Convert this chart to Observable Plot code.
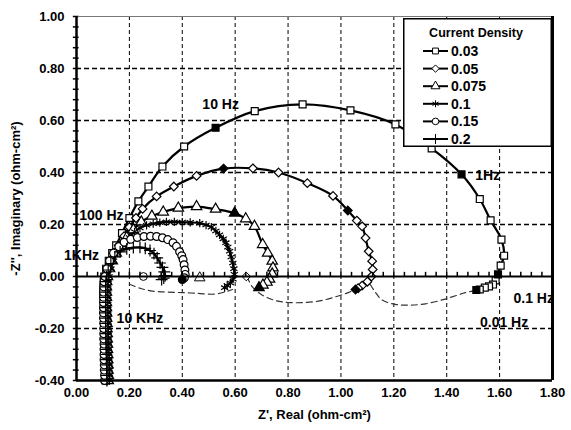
<!DOCTYPE html>
<html><head><meta charset="utf-8">
<script src="https://cdn.jsdelivr.net/npm/d3@7"></script>
<script src="https://cdn.jsdelivr.net/npm/@observablehq/plot@0.6"></script>
<style>
body{margin:0;background:#fff;}
#wrap{position:relative;width:571px;height:430px;font-family:"Liberation Sans",Arial,sans-serif;}
#legend{position:absolute;left:403px;top:18px;}
</style></head><body><div id="wrap"></div>
<script>
// ---------- data ----------
const seriesNames = ["0.03","0.05","0.075","0.1","0.15","0.2"];

// high-frequency (inductive) tail, shared imaginary values
const tailIm = [-0.40,-0.38,-0.36,-0.34,-0.32,-0.30,-0.28,-0.26,-0.24,-0.22,-0.20,-0.18,-0.16,-0.14,-0.12,-0.10,-0.08,-0.06,-0.04,-0.02,0.00];
const tail003 = [0.110,0.110,0.109,0.109,0.108,0.108,0.107,0.107,0.106,0.106,0.105,0.105,0.104,0.104,0.103,0.103,0.102,0.102,0.102,0.103,0.105];
const tail005 = [0.115,0.115,0.114,0.114,0.113,0.113,0.112,0.112,0.111,0.111,0.110,0.110,0.109,0.109,0.108,0.108,0.108,0.108,0.108,0.109,0.112];
const tail0075 = [0.120,0.120,0.119,0.119,0.118,0.118,0.117,0.117,0.116,0.116,0.115,0.115,0.114,0.114,0.113,0.113,0.113,0.113,0.113,0.114,0.117];
const tail01 = [0.125,0.125,0.124,0.124,0.123,0.123,0.122,0.122,0.121,0.121,0.120,0.120,0.119,0.119,0.118,0.118,0.118,0.118,0.118,0.120,0.123];
const tail015 = [0.106,0.106,0.105,0.105,0.104,0.104,0.104,0.104,0.103,0.103,0.103,0.103,0.102,0.102,0.102,0.102,0.102,0.102,0.103,0.104,0.107];
const tail02 = [0.115,0.115,0.114,0.114,0.113,0.113,0.112,0.112,0.111,0.111,0.110,0.110,0.110,0.110,0.110,0.110,0.110,0.110,0.110,0.111,0.114];

// arcs
const arcRe003 = [0.112,0.122,0.135,0.150,0.172,0.200,0.234,0.272,0.325,0.407,0.526,0.674,0.855,1.036,1.206,1.343,1.456,1.525,1.566,1.607,1.617,1.604,1.594,1.585,1.575,1.560,1.544,1.525,1.512];
const arcIm003 = [0.03,0.06,0.09,0.12,0.167,0.225,0.289,0.346,0.423,0.500,0.572,0.636,0.662,0.639,0.585,0.493,0.393,0.298,0.216,0.142,0.080,0.042,0.008,-0.015,-0.031,-0.038,-0.043,-0.050,-0.052];
const filled003 = [0.526,1.456,1.594,1.512];

const arcRe005 = [0.120,0.130,0.145,0.160,0.180,0.200,0.225,0.250,0.303,0.368,0.454,0.556,0.667,0.764,0.873,0.970,1.026,1.060,1.080,1.093,1.105,1.118,1.120,1.115,1.100,1.080,1.065,1.055];
const arcIm005 = [0.03,0.06,0.09,0.12,0.155,0.19,0.225,0.26,0.308,0.346,0.387,0.415,0.416,0.400,0.359,0.310,0.254,0.215,0.193,0.148,0.097,0.059,0.027,0.000,-0.020,-0.035,-0.045,-0.050];
const filled005 = [0.556,1.026,1.055];

const arcRe0075 = [0.125,0.135,0.150,0.170,0.190,0.215,0.245,0.285,0.328,0.385,0.454,0.526,0.598,0.640,0.673,0.704,0.723,0.740,0.743,0.740,0.730,0.720,0.705,0.690];
const arcIm0075 = [0.03,0.06,0.09,0.12,0.15,0.18,0.21,0.232,0.248,0.263,0.269,0.259,0.244,0.222,0.193,0.123,0.090,0.059,0.033,0.010,-0.010,-0.022,-0.033,-0.043];
const filled0075 = [0.598,0.690];

const arcRe01 = [0.130,0.140,0.155,0.175,0.200,0.220,0.240,0.265,0.290,0.315,0.340,0.370,0.400,0.430,0.466,0.490,0.510,0.527,0.541,0.555,0.565,0.572,0.579,0.585,0.591,0.595,0.597,0.592,0.582,0.570,0.560];
const arcIm01 = [0.03,0.06,0.09,0.12,0.15,0.172,0.187,0.197,0.203,0.207,0.210,0.210,0.209,0.208,0.205,0.198,0.190,0.175,0.160,0.145,0.130,0.113,0.097,0.075,0.052,0.030,0.008,-0.010,-0.025,-0.035,-0.043];
const filled01 = [0.560];

const arcRe015 = [0.115,0.125,0.140,0.160,0.180,0.205,0.230,0.255,0.280,0.303,0.325,0.345,0.365,0.378,0.390,0.398,0.403,0.407,0.410,0.411,0.408,0.400];
const arcIm015 = [0.03,0.06,0.09,0.115,0.132,0.143,0.150,0.154,0.155,0.154,0.149,0.142,0.130,0.116,0.095,0.080,0.065,0.045,0.025,0.008,-0.005,-0.012];
const filled015 = [0.400];

const arcRe02 = [0.120,0.130,0.145,0.165,0.190,0.215,0.240,0.260,0.278,0.293,0.305,0.316,0.325,0.332,0.335,0.330,0.322];
const arcIm02 = [0.025,0.05,0.075,0.095,0.106,0.111,0.112,0.108,0.100,0.088,0.072,0.052,0.035,0.018,0.003,-0.006,-0.012];
const filled02 = [0.322];

// isolated low-frequency markers lying on the axis
const strayRe = [0.253, 0.466, 0.642];
const strayIm = [0.000, -0.005, 0.000];
const straySeries = ["0.15", "0.075", "0.05"];

// dashed low-frequency curves
const dashA_re = [0.200,0.240,0.280,0.340,0.400,0.460,0.520,0.560,0.590];
const dashA_im = [-0.030,-0.045,-0.055,-0.060,-0.062,-0.065,-0.068,-0.060,-0.050];
const dashB_re = [0.645,0.665,0.700,0.750,0.800,0.860,0.920,0.980,1.020,1.050];
const dashB_im = [0.000,-0.040,-0.070,-0.092,-0.100,-0.100,-0.094,-0.078,-0.065,-0.052];
const dashC_re = [1.110,1.130,1.155,1.205,1.260,1.320,1.390,1.440,1.470,1.510];
const dashC_im = [-0.030,-0.060,-0.090,-0.107,-0.110,-0.105,-0.088,-0.072,-0.062,-0.054];

// frequency annotations
const noteText = ["10 Hz","1Hz","100 Hz","1KHz","10 KHz","0.1 Hz","0.01 Hz"];
const noteRe = [0.545,1.555,0.094,0.019,0.240,1.729,1.617];
const noteIm = [0.663,0.387,0.234,0.080,-0.161,-0.084,-0.176];

// axis ticks
const xTicks = [0,0.2,0.4,0.6,0.8,1.0,1.2,1.4,1.6,1.8];
const yTicks = [-0.4,-0.2,0,0.2,0.4,0.6,0.8,1.0];
const xGrid = [0.2,0.4,0.6,0.8,1.0,1.2,1.4,1.6];
const yGrid = [-0.2,0.2,0.4,0.6,0.8];

// ---------- build tables ----------
const seriesRe = [tail003.concat(arcRe003), tail005.concat(arcRe005), tail0075.concat(arcRe0075), tail01.concat(arcRe01), tail015.concat(arcRe015), tail02.concat(arcRe02)];
const seriesIm = [arcIm003, arcIm005, arcIm0075, arcIm01, arcIm015, arcIm02].map(a => tailIm.concat(a));
const seriesFilled = [filled003,filled005,filled0075,filled01,filled015,filled02];
const symbols = ["square","diamond2","triangle","asterisk","circle","plus"];

const rows = [];
seriesNames.forEach((s,i)=>{
  seriesRe[i].forEach((x,j)=>{
    rows.push({s, x, y: seriesIm[i][j], filled: j >= tailIm.length && seriesFilled[i].includes(x)});
  });
});
const strays = strayRe.map((x,i)=>({s: straySeries[i], x, y: strayIm[i]}));
const dashRows = [];
[[dashA_re,dashA_im],[dashB_re,dashB_im],[dashC_re,dashC_im]].forEach(([rx,ry],k)=>{
  rx.forEach((x,j)=>dashRows.push({id:k, x, y: ry[j]}));
});
const notes = noteText.map((t,i)=>({t, x: noteRe[i], y: noteIm[i]}));
const minorX = d3.range(0, 1.8001, 0.04).map(v=>+v.toFixed(2));
const minorY = d3.range(-0.4, 1.0001, 0.04).map(v=>+v.toFixed(2));

const fmt = d=>d.toFixed(2);

const chart = Plot.plot({
  width: 571, height: 430,
  marginLeft: 76, marginRight: 19, marginTop: 16, marginBottom: 50,
  style: {fontFamily: '"Liberation Sans", Arial, sans-serif', fontSize: "13px", fontWeight: "bold", color: "#000", background: "#fff"},
  x: {domain: [0, 1.8]},
  y: {domain: [-0.4, 1.0]},
  symbol: {domain: seriesNames, range: symbols},
  marks: [
    Plot.ruleX(xGrid, {stroke: "#000", strokeWidth: 1, strokeDasharray: "4,3"}),
    Plot.ruleY(yGrid, {stroke: "#000", strokeWidth: 1.3, strokeDasharray: "5,3"}),
    Plot.line(dashRows, {x: "x", y: "y", z: "id", curve: "catmull-rom", stroke: "#333", strokeWidth: 1.2, strokeDasharray: "6,4"}),
    Plot.line(rows, {x: "x", y: "y", z: "s", curve: "catmull-rom", stroke: "#000", strokeWidth: 2.2}),
    Plot.dot(rows.filter(d=>!d.filled), {x: "x", y: "y", symbol: "s", r: 3.9, fill: "#fff", stroke: "#000", strokeWidth: 1.2}),
    Plot.dot(rows.filter(d=>d.filled), {x: "x", y: "y", symbol: "s", r: 3.9, fill: "#000", stroke: "#000", strokeWidth: 1.2}),
    Plot.dot(strays, {x: "x", y: "y", symbol: "s", r: 3.9, fill: "#fff", stroke: "#000", strokeWidth: 1}),
    Plot.ruleY([0], {stroke: "#000", strokeWidth: 2}),
    Plot.ruleX(minorX, {y1: 0, y2: 0.016, stroke: "#000", strokeWidth: 1.5}),
    Plot.ruleY(minorY, {x1: -0.012, x2: 0.010, stroke: "#000", strokeWidth: 1.5}),
    Plot.ruleY([1.0], {stroke: "#777", strokeWidth: 1}),
    Plot.ruleY([-0.4], {stroke: "#000", strokeWidth: 2.5}),
    Plot.ruleX([0], {stroke: "#000", strokeWidth: 2.5}),
    Plot.ruleX([1.8], {stroke: "#000", strokeWidth: 3}),
    Plot.text(notes, {x: "x", y: "y", text: "t", fontSize: 14, fontWeight: "bold", fill: "#000"}),
    Plot.axisX({ticks: xTicks, tickFormat: fmt, tickSize: 0, tickPadding: 7, fontSize: 13, fontWeight: "bold",
      label: "Z', Real (ohm-cm²)", labelAnchor: "center", labelArrow: "none", labelOffset: 38}),
    Plot.axisY({ticks: yTicks, tickFormat: fmt, tickSize: 0, tickPadding: 12, fontSize: 13, fontWeight: "bold",
      label: "-Z'', Imaginary (ohm-cm²)", labelAnchor: "center", labelArrow: "none", labelOffset: 66})
  ]
});
const wrap = document.getElementById("wrap");
wrap.appendChild(chart);

// ---------- legend ----------
const d3sym = {square: d3.symbolSquare, diamond2: d3.symbolDiamond2, triangle: d3.symbolTriangle,
  asterisk: d3.symbolAsterisk, circle: d3.symbolCircle, plus: d3.symbolPlus};
const legW = 149, legH = 129;
const leg = d3.create("svg").attr("id","legend").attr("width", legW).attr("height", legH)
  .style("font-family", '"Liberation Sans", Arial, sans-serif').style("font-weight","bold");
leg.append("rect").attr("x",0.75).attr("y",0.75).attr("width",legW-1.5).attr("height",legH-1.5)
  .attr("fill","#fff").attr("stroke","#000").attr("stroke-width",1.5);
leg.append("text").attr("x", 73).attr("y", 19).attr("text-anchor","middle").attr("font-size",12.5).text("Current Density");
seriesNames.forEach((s,i)=>{
  const cy = 33 + i*17.6;
  const g = leg.append("g").attr("transform", `translate(0,${cy})`);
  g.append("line").attr("x1",20).attr("x2",45).attr("stroke","#000").attr("stroke-width",2);
  g.append("path").attr("d", d3.symbol(d3sym[symbols[i]], Math.PI*3.3*3.3)()).attr("transform","translate(32.5,0)")
    .attr("fill","#fff").attr("stroke","#000").attr("stroke-width",1);
  g.append("text").attr("x",48).attr("dy","0.36em").attr("font-size",14).text(s);
});
wrap.appendChild(leg.node());
</script></body></html>
